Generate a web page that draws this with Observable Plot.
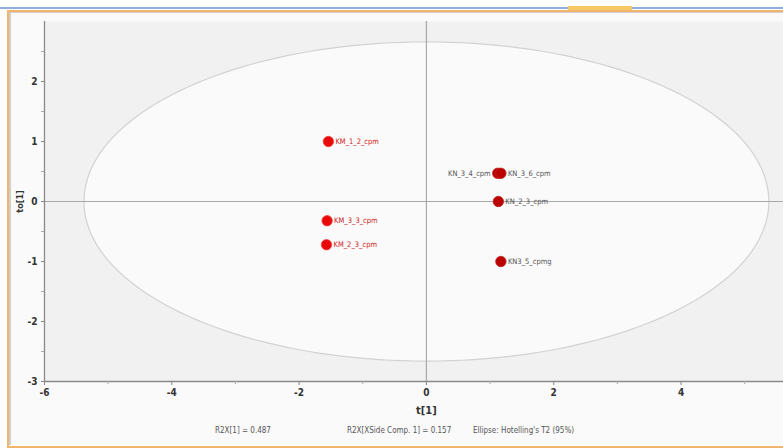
<!DOCTYPE html>
<html>
<head>
<meta charset="utf-8">
<script src="https://cdn.jsdelivr.net/npm/d3@7"></script>
<script src="https://cdn.jsdelivr.net/npm/@observablehq/plot@0.6"></script>
<style>
  html, body { margin: 0; padding: 0; background: #fff; overflow: hidden; }
  #page { position: relative; width: 783px; height: 448px; }
  #topline { position: absolute; left: 0; top: 7px; width: 783px; height: 2px; background: #8eaee0; }
  #tab { position: absolute; left: 568px; top: 6px; width: 64px; height: 4px; background: #f7c865; }
  #frame { position: absolute; left: 7px; top: 10px; width: 800px; height: 434px; border: 2px solid #f0b46a; border-right: none; box-sizing: content-box; }
  #inner { position: absolute; left: 9px; top: 12px; width: 800px; height: 432px; border-left: 2px solid #cfcfcf; border-top: 1px solid #cfcfcf; background: #fafafa; }
  #chart { position: absolute; left: 0; top: 0; }
  .foot { position: absolute; top: 426px; font: 8px "DejaVu Sans Condensed", "DejaVu Sans", sans-serif; color: #555; white-space: nowrap; }
</style>
</head>
<body>
<div id="page">
  <div id="topline"></div>
  <div id="tab"></div>
  <div id="frame"></div>
  <div id="inner"></div>
  <div id="chart"></div>
  <div class="foot" style="left:215px">R2X[1] = 0.487</div>
  <div class="foot" style="left:347px">R2X[XSide Comp. 1] = 0.157</div>
  <div class="foot" style="left:473px">Ellipse: Hotelling's T2 (95%)</div>
</div>
<script>
// ---- data ----
const sampleLabels = ["KM_1_2_cpm", "KM_3_3_cpm", "KM_2_3_cpm", "KN_3_4_cpm", "KN_3_6_cpm", "KN_2_3_cpm", "KN3_5_cpmg"];
const t1Scores = [-1.54, -1.56, -1.57, 1.12, 1.17, 1.13, 1.17];
const to1Scores = [1.0, -0.32, -0.72, 0.47, 0.47, 0.0, -1.0];
const sampleGroups = ["KM", "KM", "KM", "KN", "KN", "KN", "KN"];
const labelSide = ["right", "right", "right", "left", "right", "right", "right"];
const xTickValues = [-6, -4, -2, 0, 2, 4];
const xMinorTicks = [-5, -3, -1, 1, 3, 5];
const yTickValues = [-3, -2, -1, 0, 1, 2];
const yMinorTicks = [-2.5, -1.5, -0.5, 0.5, 1.5, 2.5];
const ellipseRadiusT1 = 5.38;   // Hotelling's T2 (95%) semi-axis on t[1]
const ellipseRadiusTo1 = 2.66;  // semi-axis on to[1]

const samples = sampleLabels.map((name, i) => ({
  name, t: t1Scores[i], to: to1Scores[i], group: sampleGroups[i], side: labelSide[i]
}));

const ellipse = d3.range(0, 361, 2).map(a => {
  const r = a * Math.PI / 180;
  return { t: ellipseRadiusT1 * Math.cos(r), to: ellipseRadiusTo1 * Math.sin(r) };
});

const font = '"DejaVu Sans Condensed", "DejaVu Sans", sans-serif';
const fmt = d => String(d);

const chart = Plot.plot({
  width: 783,
  height: 400,
  marginLeft: 44,
  marginRight: 0,
  marginTop: 21,
  marginBottom: 19,
  style: { background: "transparent", fontFamily: font, overflow: "visible" },
  x: { domain: [-6, 5.61], axis: null },
  y: { domain: [-3, 3], axis: null },
  marks: [
    Plot.frame({ fill: "#f1f1f1", stroke: null }),
    Plot.line(ellipse, { x: "t", y: "to", stroke: "#d2d2d2", strokeWidth: 1.2, fill: "#fafafa" }),
    Plot.ruleX([0], { stroke: "#a9a9a9", strokeWidth: 1.2 }),
    Plot.ruleY([0], { stroke: "#a9a9a9", strokeWidth: 1.2 }),
    Plot.ruleX([-6], { stroke: "#8a8a8a", strokeWidth: 1.3 }),
    Plot.ruleY([-3], { stroke: "#8a8a8a", strokeWidth: 1.3 }),
    Plot.axisX({ ticks: xTickValues, tickFormat: fmt, tickSize: 4, tickPadding: 3, fontSize: 10, fontWeight: "bold", fill: "#333", stroke: "#888", label: null }),
    Plot.axisX({ ticks: xMinorTicks, tickSize: 3, text: null, stroke: "#aaa", label: null }),
    Plot.axisY({ ticks: yTickValues, tickFormat: fmt, tickSize: 3, tickPadding: 4, fontSize: 10, fontWeight: "bold", fill: "#333", stroke: "#888", label: null }),
    Plot.axisY({ ticks: yMinorTicks, tickSize: 3, text: null, stroke: "#aaa", label: null }),
    Plot.text(["t[1]"], { x: 0, y: -3, dy: 29, text: d => d, fontSize: 11, fontWeight: "bold", fill: "#333" }),
    Plot.text(["to[1]"], { x: -6, y: 0, dx: -24, text: d => d, rotate: -90, fontSize: 9, fontWeight: "bold", fill: "#333" }),
    Plot.dot(samples, { x: "t", y: "to", r: 5.2, fill: d => d.group === "KM" ? "#e80a0a" : "#bb0000", stroke: d => d.group === "KM" ? "#f04040" : "#c02020", strokeWidth: 0.8 }),
    Plot.text(samples.filter(d => d.side === "right"), { x: "t", y: "to", text: "name", dx: 7, textAnchor: "start", fontSize: 7.5, fill: d => d.group === "KM" ? "#d01818" : "#555" }),
    Plot.text(samples.filter(d => d.side === "left"), { x: "t", y: "to", text: "name", dx: -7, textAnchor: "end", fontSize: 7.5, fill: "#555" })
  ]
});
document.getElementById("chart").appendChild(chart);
</script>
</body>
</html>
